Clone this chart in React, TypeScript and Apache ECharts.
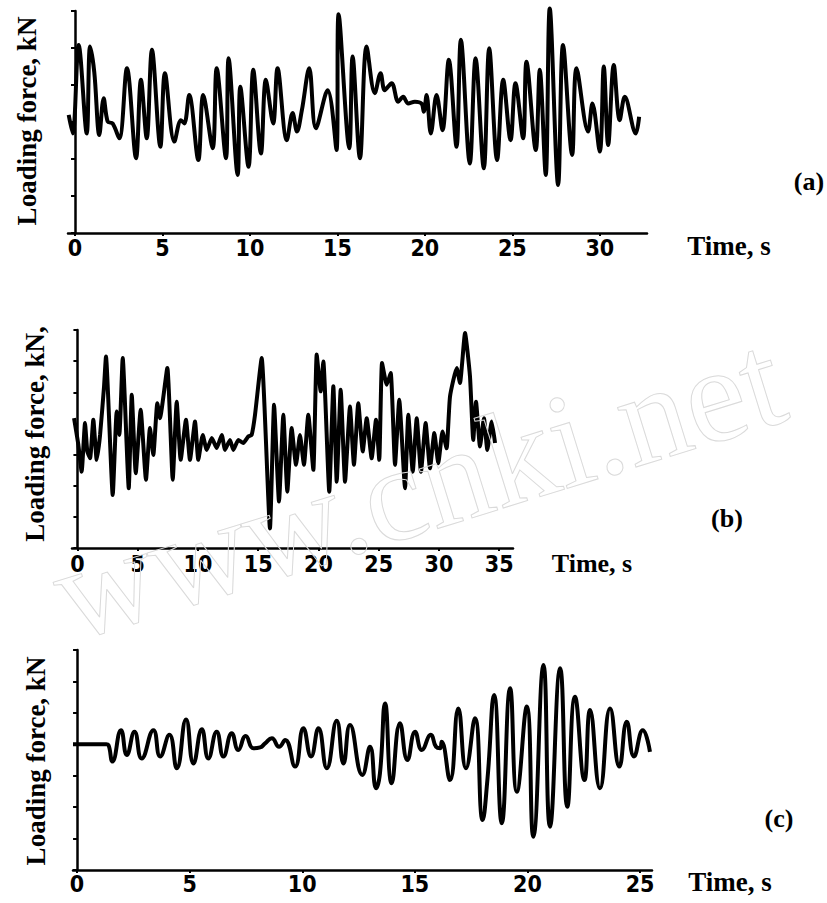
import { useEffect, useRef } from "react";
import * as echarts from "echarts";

// ---------- Panel (a) ----------
const timeA = [
  -0.36, -0.13, 0.21, 0.67, 0.86, 1.1, 1.39, 1.64, 1.87, 2.15, 2.53, 2.97, 3.49, 3.77, 4.1, 4.4, 4.88, 5.14,
  5.68, 6.06, 6.25, 6.53, 7.05, 7.33, 7.87, 8.1, 8.63, 8.78, 9.3, 9.45, 9.92, 10.19, 10.63, 10.91, 11.33,
  11.58, 12.11, 12.44, 12.69, 12.97, 13.39, 13.77, 14.44, 14.95, 15.07, 15.68, 15.87, 16.29, 16.67, 17.14,
  17.47, 17.71, 18.1, 18.48, 18.76, 19.05, 19.43, 19.81, 19.94, 20.1, 20.34, 20.67, 21.01, 21.37, 21.81,
  22.06, 22.57, 22.9, 23.37, 23.68, 24.13, 24.48, 24.9, 25.18, 25.62, 25.81, 26.34, 26.57, 26.91, 27.14,
  27.62, 27.9, 28.42, 28.67, 29.33, 29.58, 30.0, 30.23, 30.48, 30.8, 31.14, 31.43, 32.06, 32.25,
];
const forceA = [
  3.19, 2.69, 5.08, 2.69, 5.04, 4.36, 2.65, 3.64, 3.01, 2.96, 2.56, 4.45, 2.02, 4.14, 2.56, 4.95, 2.33, 4.32,
  2.47, 3.05, 2.96, 3.73, 1.97, 3.73, 2.29, 4.45, 2.02, 4.72, 1.57, 3.95, 1.79, 4.41, 2.15, 4.14, 2.96,
  4.45, 2.51, 3.24, 2.74, 3.32, 4.45, 2.83, 3.86, 2.24, 5.91, 2.29, 4.77, 2.02, 5.04, 3.78,
  4.32, 3.86, 4.05, 3.55, 3.68, 3.5, 3.55, 3.5, 3.28, 3.73, 2.69, 3.73, 2.78, 4.68, 2.33,
  5.22, 1.88, 4.72, 1.75, 4.99, 1.97, 4.14, 2.51, 4.05, 2.56, 4.63, 2.24, 4.41, 1.57, 6.07,
  1.3, 5.08, 2.11, 4.45, 2.74, 3.5, 2.2, 4.5, 2.38, 4.54, 3.05, 3.68, 2.69, 3.14,
];

// ---------- Panel (b) ----------
const timeB = [
  -0.28, 0.08, 0.35, 0.63, 0.82, 1.05, 1.32, 1.6, 1.88, 2.21, 2.37, 2.93, 3.26, 3.48, 3.76, 4.26, 4.51, 4.84,
  5.25, 5.69, 6.02, 6.3, 6.63, 6.85, 7.46, 7.91, 8.24, 8.57, 9.01, 9.34, 9.76, 10.03, 10.4, 10.73, 11.15,
  11.56, 11.98, 12.25, 12.66, 12.94, 13.35, 13.77, 14.18, 14.46, 14.74, 15.29, 15.98, 16.32, 16.73, 17.09,
  17.42, 17.78, 18.14, 18.47, 18.8, 19.16, 19.58, 19.86, 20.19, 20.41, 20.9, 21.24, 21.52, 21.85, 22.21,
  22.62, 22.95, 23.31, 23.68, 24.01, 24.42, 24.78, 25.05, 25.28, 25.67, 26.0, 26.36, 26.71, 27.19, 27.46,
  27.83, 28.16, 28.51, 28.9, 29.26, 29.62, 29.95, 30.3, 30.64, 30.92, 31.48, 31.75, 32.17, 32.58, 32.85,
  33.08, 33.41, 33.74, 34.02, 34.38, 34.66,
];
const forceB = [
  4.17, 3.31, 2.45, 4.01, 3.1, 2.88, 4.12, 2.83, 3.63, 5.19, 6.15, 1.7, 4.38, 3.63, 6.1, 1.92, 4.92, 2.4,
  4.44, 2.19, 3.85, 2.99, 4.65, 4.17, 5.78, 2.19, 4.7, 2.83, 4.12, 2.83, 4.06, 2.83, 3.63, 3.15, 3.53,
  3.21, 3.63, 3.15, 3.47, 3.15, 3.47, 3.37, 3.58, 3.63, 4.28, 6.1, 0.63, 4.6, 1.49, 4.28,
  1.81, 3.85, 2.67, 3.63, 2.67, 4.28, 2.51, 6.21, 5.03, 5.99, 1.81, 5.19, 2.13, 5.08, 2.13,
  4.54, 2.67, 4.65, 3.1, 4.17, 2.88, 4.12, 2.83, 5.94, 5.24, 5.62, 2.67, 4.76, 1.92, 4.28,
  2.45, 4.17, 2.45, 4.01, 2.56, 3.69, 2.72, 3.74, 3.2, 4.86, 5.78, 5.3, 6.9, 5.51, 3.47,
  4.7, 3.26, 4.17, 3.15, 4.06, 3.37,
];

// ---------- Panel (c) ----------
const timeC = [
  -0.18, 1.3, 1.39, 1.57, 1.95, 2.21, 2.55, 2.87, 3.39, 3.69, 4.1, 4.43, 4.84, 5.17, 5.54, 5.83, 6.2, 6.5,
  6.87, 7.16, 7.49, 7.83, 8.13, 8.35, 8.65, 8.97, 9.24, 9.68, 10.05, 10.39, 10.72, 11.09, 11.53, 11.83,
  12.12, 12.67, 13.01, 13.28, 13.45, 13.68, 13.97, 14.34, 14.67, 15.01, 15.31, 15.71, 15.94, 16.12, 16.19,
  16.56, 16.93, 17.27, 17.67, 18.01, 18.22, 18.52, 18.86, 19.23, 19.53, 19.97, 20.26, 20.71, 21.0, 21.45,
  21.77, 22.11, 22.53, 22.78, 23.22, 23.67, 24.08, 24.41, 24.73, 25.12, 25.44,
];
const forceC = [
  4.0, 4.0, 3.98, 3.45, 4.45, 3.66, 4.4, 3.55, 4.45, 3.61, 4.3, 3.24, 4.79, 3.39, 4.48, 3.55, 4.4, 3.61,
  4.35, 3.82, 4.26, 3.87, 3.9, 4.03, 4.19, 3.92, 4.14, 3.29, 4.51, 3.61, 4.51, 3.24, 4.75, 3.39,
  4.61, 3.02, 3.92, 2.6, 3.08, 5.3, 2.76, 4.67, 3.5, 4.4, 3.82, 4.3, 3.92, 3.87, 4.08,
  2.86, 5.14, 3.24, 4.83, 1.59, 2.86, 5.57, 1.49, 5.78, 2.49, 5.2, 1.06, 6.52, 1.38, 6.42,
  2.01, 5.51, 2.86, 5.09, 2.6, 5.14, 3.29, 4.72, 3.61, 4.45, 3.76,
];

// ---------- Tick labels ----------
const ticksA = [0, 5, 10, 15, 20, 25, 30];
const ticksB = [0, 5, 10, 15, 20, 25, 30, 35];
const ticksC = [0, 5, 10, 15, 20, 25];

const yLabel = "Loading force, kN";
const yLabelB = "Loading force, kN,";
const xLabel = "Time, s";
const watermark = "www.cnki.net";

const digitFont = "'Liberation Sans Narrow', 'DejaVu Sans Condensed', 'Liberation Sans', Arial, sans-serif";
const serifFont = "'Liberation Serif', 'DejaVu Serif', 'Times New Roman', serif";

function zip(t: number[], v: number[]) {
  return t.map((x, i) => [x, v[i]]);
}

function xAxisOf(gridIndex: number, min: number, max: number, ticks: number[], margin: number) {
  return {
    type: "value",
    gridIndex,
    min,
    max,
    axisLine: { show: true, onZero: false, lineStyle: { color: "#000", width: 2.5 } },
    axisTick: { show: true, customValues: ticks, length: 3, lineStyle: { color: "#000", width: 2 } },
    axisLabel: {
      show: true,
      customValues: ticks,
      margin,
      color: "#000",
      fontSize: 23,
      fontWeight: "bold",
      fontFamily: digitFont,
    },
    splitLine: { show: false },
  };
}

function yAxisOf(gridIndex: number, max: number) {
  return {
    type: "value",
    gridIndex,
    min: 0,
    max,
    interval: 1,
    axisLine: { show: true, lineStyle: { color: "#000", width: 2.5 } },
    axisTick: { show: true, length: 4, lineStyle: { color: "#000", width: 2 } },
    axisLabel: { show: false },
    splitLine: { show: false },
  };
}

function serifText(text: string, x: number, y: number, size: number, rotation = 0) {
  return {
    type: "text",
    x,
    y,
    rotation,
    z: 10,
    style: {
      text,
      fill: "#000",
      font: `bold ${size}px ${serifFont}`,
      align: "center",
      verticalAlign: "middle",
    },
  };
}

export default function App() {
  const ref = useRef<HTMLDivElement>(null);

  useEffect(() => {
    if (!ref.current) return;
    const chart = echarts.init(ref.current, null, { renderer: "svg" });
    const lineBase = {
      type: "line",
      symbol: "none",
      clip: false,
      lineStyle: { color: "#000", width: 4 },
      z: 3,
    };
    chart.setOption({
      animation: false,
      backgroundColor: "#fff",
      grid: [
        { left: 68, top: 11, width: 579, height: 222 },
        { left: 72, top: 330, width: 441, height: 218 },
        { left: 73, top: 650, width: 579, height: 220 },
      ],
      xAxis: [
        xAxisOf(0, -0.4, 32.7, ticksA, 3),
        xAxisOf(1, -0.45, 36.15, ticksB, 4),
        xAxisOf(2, -0.18, 25.53, ticksC, 2),
      ],
      yAxis: [yAxisOf(0, 6), yAxisOf(1, 7), yAxisOf(2, 7)],
      series: [
        { ...lineBase, xAxisIndex: 0, yAxisIndex: 0, smooth: 0.35, data: zip(timeA, forceA) },
        { ...lineBase, xAxisIndex: 1, yAxisIndex: 1, smooth: 0.15, data: zip(timeB, forceB) },
        { ...lineBase, xAxisIndex: 2, yAxisIndex: 2, smooth: 0.5, data: zip(timeC, forceC) },
      ],
      graphic: [
        serifText(yLabel, 27, 121, 27, Math.PI / 2),
        serifText(yLabelB, 35, 434, 27, Math.PI / 2),
        serifText(yLabel, 36, 761, 27, Math.PI / 2),
        serifText(xLabel, 729, 246, 27),
        serifText(xLabel, 592, 563, 26),
        serifText(xLabel, 730, 882, 27),
        serifText("(a)", 809, 181, 26),
        serifText("(b)", 727, 518, 26),
        serifText("(c)", 779, 818, 26),
        {
          type: "text",
          x: 58,
          y: 598,
          rotation: 0.3,
          z: 20,
          silent: true,
          style: {
            text: watermark,
            font: `136px ${serifFont}`,
            fill: "transparent",
            stroke: "#dadada",
            lineWidth: 1,
            align: "left",
            verticalAlign: "middle",
          },
        },
      ],
    });
    return () => chart.dispose();
  }, []);

  return (
    <div
      ref={ref}
      style={{ position: "fixed", left: 0, top: 0, width: 827, height: 903, background: "#fff" }}
    />
  );
}
